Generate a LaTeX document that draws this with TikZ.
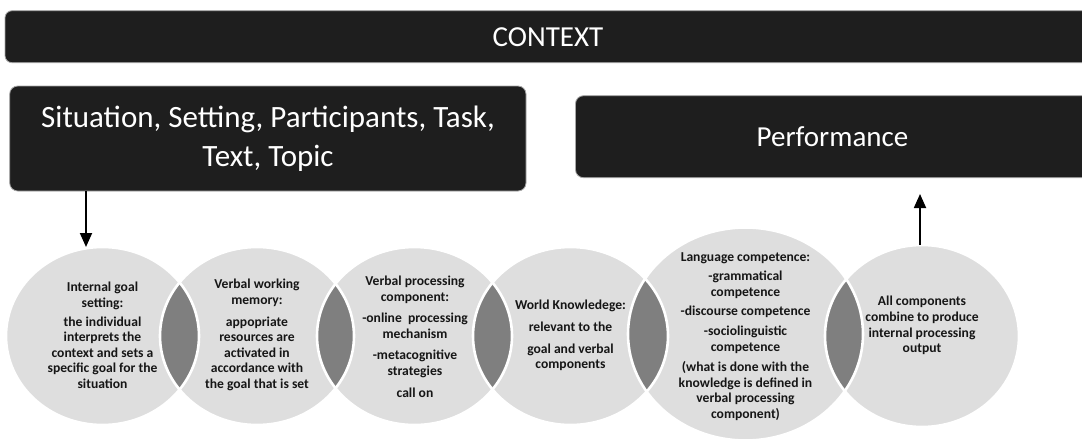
\documentclass[tikz,border=0pt]{standalone}
\usepackage{fontspec}
\setmainfont{Carlito}
\usetikzlibrary{arrows.meta,shapes.geometric}
\definecolor{barfill}{HTML}{1E1E1E}
\definecolor{barline}{HTML}{A8A8A8}
\definecolor{circfill}{HTML}{DEDEDE}
\definecolor{lensfill}{HTML}{7F7F7F}
\definecolor{txt}{HTML}{161616}
\begin{document}
\begin{tikzpicture}[x=1pt,y=-1pt,
  hdr/.style={fill=barfill,draw=barline,line width=0.8pt,rounded corners=7pt,text=white,align=center,inner sep=0pt},
  blob/.style={ellipse,fill=circfill,inner sep=0pt,outer sep=0pt},
  ctext/.style={text=txt,align=center,inner sep=0pt,font=\bfseries\fontsize{13.6}{15.6}\selectfont},
  arr/.style={line width=1.8pt,-{Triangle[width=12pt,length=14pt]}}]
\useasboundingbox (0,0) rectangle (1082,442);
\clip (0,0) rectangle (1082,442);
% header bars
\path[hdr] (5,10.7) rectangle (1095,62.7);
\node[text=white,font=\fontsize{29}{34}\selectfont] (ctx) at (548,36.7) {CONTEXT};
\path[hdr,rounded corners=8pt] (9.7,86) rectangle (526,191);
\node[text=white,align=center,font=\fontsize{31}{38.5}\selectfont] (sit) at (268,138.5) {Situation, Setting, Participants, Task,\\Text, Topic};
\path[hdr,rounded corners=8pt] (575.5,95.7) rectangle (1095,177.7);
\node[text=white,font=\fontsize{29}{34}\selectfont] (perf) at (832.5,136.7) {Performance};
\coordinate (sitb) at (86,191);
\coordinate (perfb) at (920,194);
% circles
\node[blob,minimum width=193pt,minimum height=178pt] (c1) at (102.5,336) {};
\node[blob,minimum width=194pt,minimum height=178pt] (c2) at (257,336) {};
\node[blob,minimum width=195pt,minimum height=178pt] (c3) at (414.5,336) {};
\node[blob,minimum width=195pt,minimum height=178pt] (c4) at (570.5,336) {};
\node[blob,minimum width=235pt,minimum height=213pt] (c5) at (745.5,334) {};
\node[blob,minimum width=194pt,minimum height=182pt] (c6) at (922,336) {};
% lenses
\begin{scope}\clip (102.5,336) ellipse [x radius=96.5pt,y radius=89pt];
\fill[lensfill] (257,336) ellipse [x radius=97pt,y radius=89pt];\end{scope}
\begin{scope}\clip (257,336) ellipse [x radius=97pt,y radius=89pt];
\fill[lensfill] (414.5,336) ellipse [x radius=97.5pt,y radius=89pt];\end{scope}
\begin{scope}\clip (414.5,336) ellipse [x radius=97.5pt,y radius=89pt];
\fill[lensfill] (570.5,336) ellipse [x radius=97.5pt,y radius=89pt];\end{scope}
\begin{scope}\clip (570.5,336) ellipse [x radius=97.5pt,y radius=89pt];
\fill[lensfill] (745.5,334) ellipse [x radius=117.5pt,y radius=106.5pt];\end{scope}
\begin{scope}\clip (745.5,334) ellipse [x radius=117.5pt,y radius=106.5pt];
\fill[lensfill] (922,336) ellipse [x radius=97pt,y radius=91pt];\end{scope}
% white outlines
\begin{scope}[white,line width=2.6pt]
\draw (102.5,336) ellipse [x radius=96.5pt,y radius=89pt];
\draw (257,336) ellipse [x radius=97pt,y radius=89pt];
\draw (414.5,336) ellipse [x radius=97.5pt,y radius=89pt];
\draw (570.5,336) ellipse [x radius=97.5pt,y radius=89pt];
\draw (745.5,334) ellipse [x radius=117.5pt,y radius=106.5pt];
\draw (922,336) ellipse [x radius=97pt,y radius=91pt];
\end{scope}
% texts
\node[ctext] (t1) at (102.5,335.5) {Internal goal\\setting:\\[3pt]the individual\\interprets the\\context and sets a\\specific goal for the\\situation};
\node[ctext] (t2) at (257,335) {Verbal working\\memory:\\[6pt]appopriate\\resources are\\activated in\\accordance with\\the goal that is set};
\node[ctext] (t3) at (415,336.5) {Verbal processing\\component:\\[6pt]-online\ \ processing\\mechanism\\[6pt]-metacognitive\\strategies\\[6pt]call on};
\node[ctext] (t4) at (570.5,335.5) {World Knowledege:\\[6pt]relevant to the\\[6pt]goal and verbal\\components};
\node[ctext] (t5) at (745.5,336.5) {Language competence:\\[4pt]-grammatical\\competence\\[4pt]-discourse competence\\[4pt]-sociolinguistic\\competence\\[5pt](what is done with the\\knowledge is defined in\\verbal processing\\component)};
\node[ctext] (t6) at (922,325.5) {All components\\combine to produce\\internal processing\\output};
% arrows
\draw[arr] (sitb) -- (sitb |- c1.north);
\draw[arr] (perfb |- c6.north) -- (perfb);
\end{tikzpicture}
\end{document}
